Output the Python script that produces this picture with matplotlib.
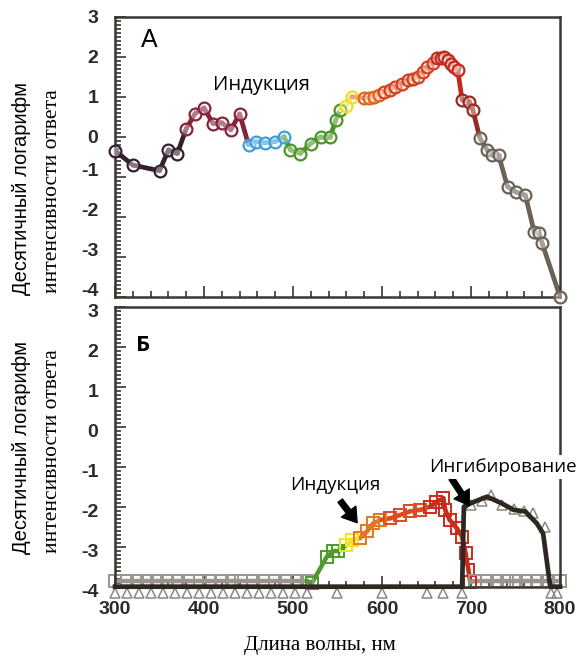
import matplotlib.pyplot as plt
import matplotlib.transforms as mtransforms
import numpy as np
from matplotlib.ticker import MultipleLocator

plt.rcParams['axes.unicode_minus'] = False

# ---- panel A: induction action spectrum (log10 response) ----
wl_a = [300, 320, 350, 360, 370, 380, 390, 400, 410, 420, 430, 440, 450,
        458, 469, 480, 490, 497, 508, 520, 531, 542, 548, 553, 559, 566,
        580, 585, 591, 597, 602, 609, 615, 622, 629, 635, 640, 646, 651,
        657, 662, 666, 670, 674, 677, 681, 685, 690, 698, 702, 710, 718,
        724, 731, 741, 750, 761, 771, 776, 780, 800]
val_a = [-0.35, -0.71, -0.85, -0.33, -0.42, 0.2, 0.58, 0.72, 0.33, 0.35,
         0.17, 0.57, -0.2, -0.12, -0.15, -0.12, 0.0, -0.33, -0.42, -0.17,
         0.0, 0.0, 0.42, 0.67, 0.76, 1.0, 0.96, 0.97, 1.0, 1.05, 1.12, 1.18,
         1.25, 1.33, 1.42, 1.45, 1.5, 1.62, 1.75, 1.85, 1.96, 1.98, 2.0,
         1.92, 1.83, 1.75, 1.67, 0.92, 0.88, 0.67, -0.04, -0.33, -0.46,
         -0.46, -1.25, -1.38, -1.46, -2.38, -2.42, -2.67, -4.0]

# ---- panel B: induction (squares) ----
wl_ind = [300, 313, 325, 336, 347, 358, 371, 382, 395, 406, 420, 431, 442,
          455, 466, 480, 491, 504, 516, 521, 538, 545, 551, 560, 566, 575,
          583, 590, 598, 609, 620, 631, 643, 654, 661, 669, 671, 676, 684,
          690, 694, 697, 699, 705, 718, 729, 740, 751, 762, 774, 785, 800]
val_ind = [-3.86] * 19 + [-3.92, -3.25, -3.12, -3.12, -2.96, -2.83, -2.79,
                           -2.62, -2.42, -2.33, -2.29, -2.21, -2.12, -2.08,
                           -2.0, -1.88, -1.79, -2.08, -2.33, -2.54, -2.75,
                           -3.17, -3.58, -3.88] + [-3.86] * 9

# ---- panel B: inhibition (black line + triangles) ----
wl_inh = [300, 690, 692, 701, 718, 733, 748, 761, 774, 781, 789, 800]
val_inh = [-4.0, -4.0, -2.0, -1.9, -1.75, -1.9, -2.08, -2.12, -2.42, -2.67,
           -4.0, -4.0]
wl_tri = [300, 313, 327, 340, 354, 367, 381, 394, 408, 421, 435, 448, 462,
          475, 489, 502, 516, 549, 600, 651, 669, 690, 700, 712, 722, 735,
          748, 760, 770, 783, 790, 797]
val_tri = [-4.15] * 22 + [-1.95, -1.85, -1.7, -1.95, -2.05, -2.1, -2.15,
                          -2.5, -4.15, -4.15]

# colour bands (upper wavelength limit, colour)
bands_a = [(380, '#34202f'), (448, '#85233d'), (492, '#3d9fd6'),
           (556, '#4a9428'), (570, '#f0df1c'), (600, '#e0661e'),
           (660, '#d4401c'), (688, '#c42a1c'), (708, '#952a22'),
           (900, '#6b6257')]
bands_b = [(518, '#9b958d'), (557, '#4f9a2c'), (572, '#f0e41e'),
           (600, '#e8761e'), (650, '#dc4a1e'), (702, '#cc2a1a'),
           (900, '#9b958d')]


def band_color(w, bands):
    for lim, c in bands:
        if w < lim:
            return c
    return bands[-1][1]


spine_c = '#3b3631'

fig = plt.figure(figsize=(5.83, 6.63), dpi=100)
axA = fig.add_axes([0.1973, 0.5525, 0.7633, 0.4223])
axB = fig.add_axes([0.1973, 0.1151, 0.7633, 0.4223])

for ax in (axA, axB):
    ax.set_xlim(300, 800)
    ax.set_ylim(-4, 3)
    ax.xaxis.set_major_locator(MultipleLocator(100))
    ax.xaxis.set_minor_locator(MultipleLocator(20))
    ax.yaxis.set_major_locator(MultipleLocator(1))
    ax.yaxis.set_minor_locator(MultipleLocator(0.1))
    ax.tick_params(which='both', direction='in', colors=spine_c,
                   top=False, right=False, width=1.2)
    ax.tick_params(which='major', length=8)
    ax.tick_params(which='minor', length=4)
    ax.tick_params(axis='y', pad=12, labelcolor='#2a2a2a')
    ax.tick_params(axis='x', pad=10, labelcolor='#2a2a2a')
    for s in ax.spines.values():
        s.set_color(spine_c)
        s.set_linewidth(1.8)
    for lab in ax.get_yticklabels() + ax.get_xticklabels():
        lab.set_fontfamily('Liberation Sans')
        lab.set_fontsize(14)
        lab.set_fontweight('bold')
axA.tick_params(axis='x', labelbottom=False)

# nudge tick labels the way they sit in the original figure
up = mtransforms.ScaledTranslation(0, 0.07, fig.dpi_scale_trans)
down = mtransforms.ScaledTranslation(0, -0.04, fig.dpi_scale_trans)
for t in axA.yaxis.get_major_ticks():
    if t.get_loc() < -0.5:
        t.label1.set_transform(t.label1.get_transform() + up)
for t in axB.yaxis.get_major_ticks():
    t.label1.set_transform(t.label1.get_transform() + down)

# panel A curve
for i in range(len(wl_a) - 1):
    c = band_color(0.5 * (wl_a[i] + wl_a[i + 1]), bands_a)
    axA.plot(wl_a[i:i + 2], val_a[i:i + 2], color=c, lw=3.4,
             solid_capstyle='round', zorder=2)
for w, v in zip(wl_a, val_a):
    axA.plot(w, v, 'o', ms=8.5, mfc=(1, 1, 1, 0.4),
             mec=band_color(w, bands_a), mew=1.6, zorder=3, clip_on=False)

# panel B: inhibition
axB.plot(wl_inh, val_inh, color='#2d2822', lw=3.4, zorder=3, clip_on=False)
axB.plot(wl_tri, val_tri, '^', ms=7, mfc='none', mec='#8c877f', mew=1.1,
         zorder=2, clip_on=False)

# panel B: induction
for i in range(len(wl_ind) - 1):
    c = band_color(0.5 * (wl_ind[i] + wl_ind[i + 1]), bands_b)
    axB.plot(wl_ind[i:i + 2], val_ind[i:i + 2], color=c, lw=3.2,
             solid_capstyle='round', zorder=2)
for w, v in zip(wl_ind, val_ind):
    axB.plot(w, v, 's', ms=8, mfc='none', mec=band_color(w, bands_b),
             mew=1.4, zorder=2.5, clip_on=False)

# annotations
axA.text(339, 2.42, 'А', fontsize=18, family='Liberation Sans',
         ha='center', va='center')
axB.text(331, 2.04, 'Б', fontsize=16, family='Open Sans', fontweight='bold',
         ha='center', va='center')
bb = dict(facecolor='white', edgecolor='none', pad=2)
axA.text(465, 1.29, 'Индукция', fontsize=14.5, family='Open Sans',
         ha='center', va='center', bbox=bb, zorder=5)
axB.text(547, -1.46, 'Индукция', fontsize=13.5, family='Open Sans',
         ha='center', va='center', bbox=bb, zorder=5)
axB.text(736, -1.0, 'Ингибирование', fontsize=13.5, family='Open Sans',
         ha='center', va='center', bbox=bb, zorder=5, clip_on=False)
arrow = dict(facecolor='black', edgecolor='black', width=4, headwidth=13,
             headlength=10, shrink=0)
axB.annotate('', xy=(572, -2.4), xytext=(553, -1.85), arrowprops=arrow)
axB.annotate('', xy=(698, -1.97), xytext=(678, -1.29), arrowprops=arrow)

# axis titles
for yc in (0.7164, 0.3243):
    fig.text(0.0377, yc, 'Десятичный логарифм', rotation=90, ha='center',
             va='center', fontsize=14.5, family='Liberation Sans')
    fig.text(0.0909, yc - 0.004, 'интенсивности ответа', rotation=90,
             ha='center', va='center', fontsize=15.5, family='Liberation Serif')
fig.text(0.549, 0.027, 'Длина волны, нм', ha='center', va='center',
         fontsize=15, family='Liberation Serif')

fig.savefig('out.png', dpi=100)
